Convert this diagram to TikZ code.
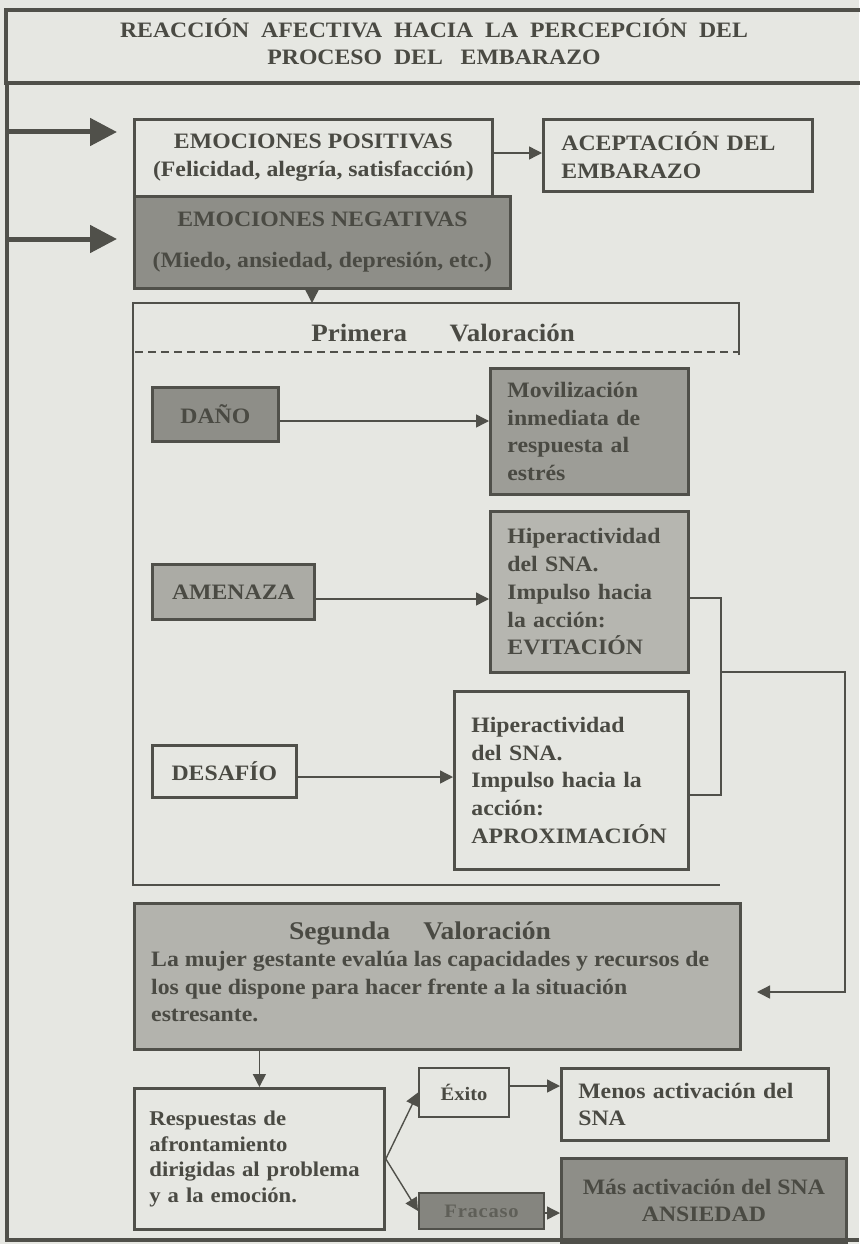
\documentclass[tikz,border=0pt]{standalone}
\usepackage{fontspec}
\setmainfont{Liberation Serif}[FakeStretch=1.08]
\usetikzlibrary{arrows.meta}
\definecolor{bg}{HTML}{E6E7E2}
\definecolor{ln}{HTML}{50504A}
\definecolor{tx}{HTML}{4A4A43}
\definecolor{darkf}{HTML}{8E8E88}
\definecolor{movf}{HTML}{9D9D97}
\definecolor{amef}{HTML}{ABABA5}
\definecolor{evif}{HTML}{B6B6B0}
\definecolor{segf}{HTML}{B3B3AD}
\definecolor{fraf}{HTML}{85857F}
\definecolor{fratx}{HTML}{5F5F58}
\hyphenpenalty=10000
\exhyphenpenalty=10000
\newcommand{\bodyf}{\fontsize{22}{27.7}\selectfont\bfseries}
\newcommand{\titlef}{\fontsize{22}{27}\selectfont\bfseries}
\newcommand{\smallf}{\fontsize{19}{22}\selectfont\bfseries}
\begin{document}
\begin{tikzpicture}[x=1pt,y=-1pt,
  box/.style={draw=ln, line width=2.8pt, inner sep=0pt, anchor=north west, font=\bodyf, text=tx},
  lbox/.style={box, align=left, inner xsep=17pt},
  cbox/.style={box, align=center},
  txt/.style={font=\bodyf, text=tx, inner sep=0pt},
  conn/.style={draw=ln, line width=1.4pt},
  arr/.style={conn, -{Triangle[length=13pt,width=13pt]}},
  bigarr/.style={draw=ln, line width=5pt, -{Triangle[length=27pt,width=27pt]}},
  frame/.style={draw=ln, line width=2.4pt}
]
\useasboundingbox (0,0) rectangle (859,1244);
\fill[bg] (0,0) rectangle (859,1244);

% title
\node[box, line width=4pt, minimum width=856, minimum height=73] (title) at (4,8) {};
\node[txt, font=\titlef, align=center] (titlet) at (434,42)
  {REACCIÓN\ \ AFECTIVA\ \ HACIA\ \ LA\ \ PERCEPCIÓN\ \ DEL\\PROCESO\ \ DEL\ \ \ EMBARAZO};
% left spine and bottom line
\coordinate (sp0) at (7,81);
\coordinate (sp1) at (7,1240);
\coordinate (sp2) at (859,1240);
\draw[draw=ln, line width=4pt] (title.south west -| sp0) -- (sp1) -- (sp2);

% positive / negative
\node[cbox, minimum width=358, minimum height=77] (pos) at (133,118)
  {EMOCIONES POSITIVAS\\(Felicidad, alegría, satisfacción)};
\node[lbox, minimum width=269, minimum height=72, text width=233] (acep) at (542,118)
  {ACEPTACIÓN DEL\\EMBARAZO};
\node[cbox, fill=darkf, minimum width=376, minimum height=92] (neg) at (133,195)
  {EMOCIONES NEGATIVAS\\[13pt](Miedo, ansiedad, depresión, etc.)};
\coordinate (a1) at (117,132);
\coordinate (a2) at (117,239);
\draw[bigarr] (sp0 |- a1) -- (a1);
\draw[bigarr] (sp0 |- a2) -- (a2);
\draw[arr] (pos.east |- 0,153) -- (acep.west |- 0,153);

% primera valoracion frame
\coordinate (pf1) at (133,303);
\coordinate (pf2) at (739,303);
\coordinate (pf3) at (739,355);
\coordinate (pf4) at (133,885);
\coordinate (pf5) at (720,885);
\coordinate (pd1) at (135,352);
\coordinate (pd2) at (739,352);
\draw[frame] (pf3) -- (pf2) -- (pf1) -- (pf4) -- (pf5);
\draw[draw=ln, line width=1.4pt, dash pattern=on 8pt off 5pt] (pd1) -- (pd2);
\node[txt, font=\fontsize{25}{28}\selectfont\bfseries] (prim) at (443,333) {Primera\hspace{1.7em}Valoración};
\coordinate (pt) at (312,303);
\draw[arr] (neg.south -| pt) -- (pt);

% dano
\node[cbox, fill=darkf, minimum width=126, minimum height=54] (dano) at (151,386) {DAÑO};
\node[lbox, fill=movf, minimum width=198, minimum height=126, text width=164] (mov) at (489,367)
  {Movilización\\inmediata de\\respuesta al\\estrés};
\draw[arr] (dano.east |- 0,421) -- (mov.west |- 0,421);

% amenaza
\node[cbox, fill=amef, minimum width=162, minimum height=55] (ame) at (151,563) {AMENAZA};
\node[lbox, fill=evif, minimum width=198, minimum height=161, text width=164] (evit) at (489,510)
  {Hiperactividad\\del SNA.\\Impulso hacia\\la acción:\\EVITACIÓN};
\draw[arr] (ame.east |- 0,599) -- (evit.west |- 0,599);

% desafio
\node[cbox, minimum width=144, minimum height=52] (des) at (151,744) {DESAFÍO};
\node[lbox, minimum width=234, minimum height=178, text width=200] (aprox) at (453,690)
  {Hiperactividad\\del SNA.\\Impulso hacia la\\acción:\\APROXIMACIÓN};
\draw[arr] (des.east |- 0,777) -- (aprox.west |- 0,777);

% right connectors
\coordinate (j1) at (721,598);
\coordinate (j2) at (721,795);
\coordinate (j3) at (721,672);
\coordinate (c1) at (845,672);
\coordinate (c2) at (845,992);
\coordinate (c3) at (757,992);
\draw[conn] (evit.east |- j1) -- (j1) -- (j2) -- (aprox.east |- j2);
\draw[arr] (j3) -- (c1) -- (c2) -- (c3);

% segunda valoracion
\node[box, line width=3.2pt, fill=segf, minimum width=606, minimum height=146] (seg) at (133,902) {};
\node[txt, font=\fontsize{25.5}{28}\selectfont\bfseries] (segt) at (420,933) {Segunda\hspace{1.3em}Valoración};
\node[txt, anchor=north west, align=left] (segb) at (151,951)
  {La mujer gestante evalúa las capacidades y recursos de\\los que dispone para hacer frente a la situación\\estresante.};

% respuestas
\node[lbox, inner xsep=15pt, minimum width=250, minimum height=141, text width=220, font=\fontsize{21}{25.8}\selectfont\bfseries] (resp) at (133,1087)
  {Respuestas de\\afrontamiento\\dirigidas al problema\\y a la emoción.};
\draw[arr] (seg.south -| resp.north) -- (resp.north);

\node[cbox, line width=2pt, minimum width=90, minimum height=49, font=\smallf] (exito) at (418,1067) {Éxito};
\node[lbox, line width=2.6pt, minimum width=267, minimum height=72, text width=233] (menos) at (560,1067)
  {Menos activación del\\SNA};
\node[cbox, line width=2pt, fill=fraf, minimum width=125, minimum height=36, font=\smallf\addfontfeatures{LetterSpace=4}, text=fratx] (fra) at (418,1192) {Fracaso};
\node[cbox, line width=2.8pt, fill=darkf, minimum width=285, minimum height=84] (mas) at (560,1157)
  {Más activación del SNA\\ANSIEDAD};
\draw[arr] (resp.east) -- (exito.west);
\draw[arr] (resp.east) -- (fra.west);
\draw[arr] (exito.east |- 0,1086) -- (menos.west |- 0,1086);
\draw[arr] (fra.east |- 0,1213) -- (mas.west |- 0,1213);
\draw[draw=ln, line width=4pt] (sp1) -- (sp2);
\end{tikzpicture}
\end{document}
